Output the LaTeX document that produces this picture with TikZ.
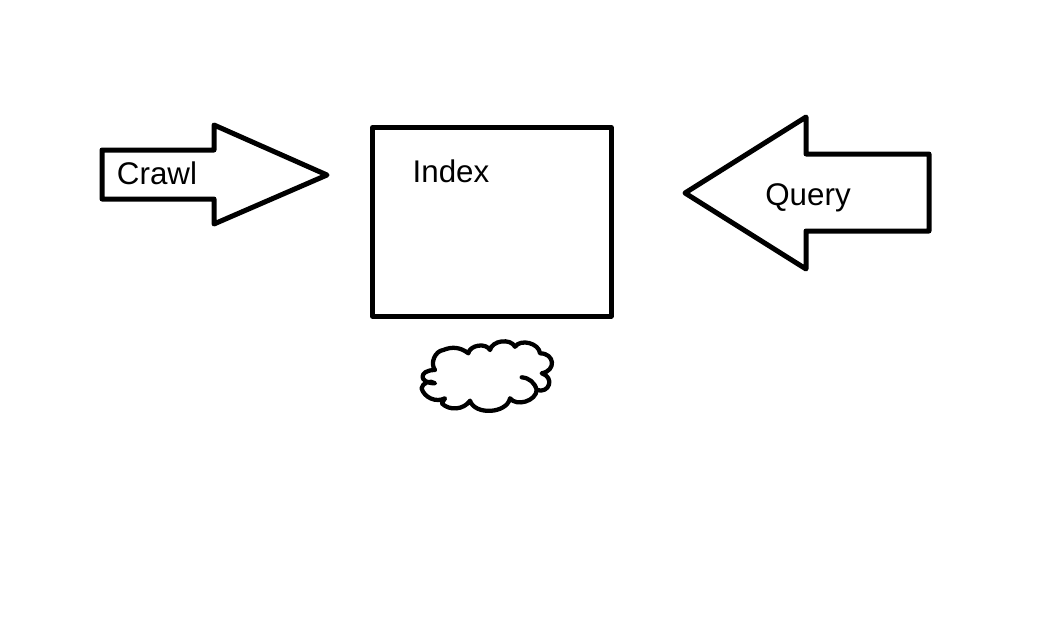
\documentclass[tikz,border=0pt]{standalone}
\usepackage{fontspec}
\setmainfont{Liberation Sans}
\tikzset{
  outline/.style={draw=black,line width=3.75pt,line join=round,line cap=round},
  lbl/.style={inner sep=0pt,font=\fontsize{23.5pt}{26pt}\selectfont}
}
\begin{document}
\begin{tikzpicture}[x=0.75pt,y=-0.75pt]
  \useasboundingbox (0,0) rectangle (1056,635);
  % Crawl arrow
  \draw[outline] (102,150) -- (214,150) -- (214,125) -- (327,175) -- (214,224) -- (214,199) -- (102,199) -- cycle;
  \node[lbl] (crawl) at (157,173) {Crawl};
  % Index box
  \node[outline,minimum width=179pt,minimum height=141.5pt,inner sep=0pt] (box) at (491.8,221.8) {};
  \node[lbl] (index) at (451,171) {Index};
  % Query arrow
  \draw[outline] (929,154) -- (806,154) -- (806,117) -- (685,193) -- (806,269) -- (806,231) -- (929,231) -- cycle;
  \node[lbl] (query) at (808,198) {Query};
  % Cloud under the box, lobe by lobe
  \draw[line width=3.2pt,line join=round,line cap=round]
    (521.7,377.3) to[bend left=35] (536.7,390)
    to[bend left=70] (510,398.3)
    to[bend left=75] (470,400.7)
    to[bend left=50] (441.7,403.3)
    -- (445,398.3)
    to[bend left=50] (421.5,388.3)
    to[bend left=60] (435,383.3)
    to[bend left=90,looseness=3.2] (435,370)
    to[bend left=60] (443.3,350)
    to[bend left=30] (468.3,353.3)
    to[bend left=70] (490,350)
    to[bend left=70] (515,346.7)
    to[bend left=70] (540,353.3)
    to[bend left=85,looseness=1.9] (541.7,373.3)
    to[bend left=90,looseness=2] (536.7,390);
\end{tikzpicture}
\end{document}
